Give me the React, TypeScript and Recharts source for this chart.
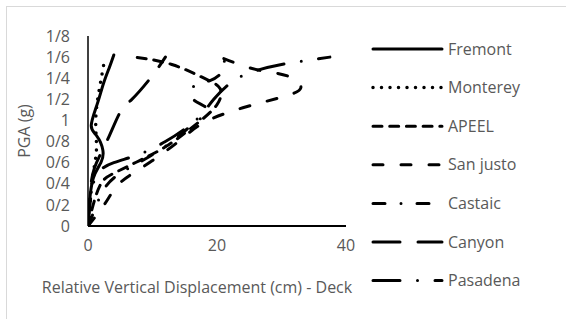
import React from 'react';
import { LineChart, Line, XAxis, YAxis } from 'recharts';

const xTicks = [0, 20, 40];
const yTicks = [0, 0.2, 0.4, 0.6, 0.8, 1, 1.2, 1.4, 1.6, 1.8];

// [displacement (cm), PGA (g)]
const fremont = [[0, 0], [0.2, 0.2], [0.8, 0.45], [2.0, 0.6], [2.3, 0.72], [1.4, 0.85], [0.5, 0.95], [1.4, 1.15], [2.4, 1.35], [3.3, 1.5], [4.0, 1.62]];
const monterey = [[0, 0], [0.3, 0.2], [0.7, 0.45], [1.2, 0.65], [1.3, 0.8], [1.2, 1.0], [1.5, 1.2], [2.0, 1.38], [2.5, 1.55]];
const apeel = [[0, 0], [0.8, 0.2], [2, 0.4], [4, 0.5], [8, 0.62], [12, 0.75], [15, 0.88], [17.5, 1.0], [20, 1.15], [20.5, 1.3], [18, 1.4], [13, 1.53], [7.3, 1.6]];
const sanJusto = [[0, 0], [2.5, 0.2], [4.5, 0.38], [7, 0.5], [10, 0.62], [14, 0.8], [18, 0.98], [24, 1.12], [30, 1.22], [33, 1.31], [31, 1.42], [27, 1.47], [23.5, 1.53], [20.5, 1.6]];
const castaic = [[0, 0], [1, 0.15], [2.5, 0.35], [5, 0.5], [9, 0.64], [13, 0.8], [16, 0.95], [18.5, 1.1], [16.3, 1.2], [16.5, 1.33], [19, 1.38], [21, 1.48], [21, 1.6]];
const canyon = [[0, 0], [0.3, 0.3], [1, 0.55], [2.9, 0.8], [5, 1.08], [6.8, 1.2], [9.8, 1.41], [12, 1.6]];
const pasadena = [[0, 0], [0.5, 0.3], [1.5, 0.5], [4, 0.6], [8, 0.68], [12, 0.8], [15, 0.92], [17.5, 1.05], [19.5, 1.2], [22, 1.35], [25, 1.45], [30, 1.53], [37.5, 1.6]];

const seriesNames = ['Fremont', 'Monterey', 'APEEL', 'San justo', 'Castaic', 'Canyon', 'Pasadena'];
const seriesData = [fremont, monterey, apeel, sanJusto, castaic, canyon, pasadena];

const dashes: (string | undefined)[] = [
  undefined,
  '0 8.5',
  '9 7.7',
  '10 18',
  '12 16 0 16',
  '27 18',
  '27 17.5 0 17.5',
];

const FONT = '"Open Sans", sans-serif';
const GRAY = '#595959';
const FS = 16;

const fmtY = (v: number) => String(v).replace('.', '/');

export default function App() {
  const rows = seriesData.map((s) => s.map(([x, y]) => ({ x, y })));
  return (
    <div style={{ position: 'fixed', left: 0, top: 0, width: 566, height: 319, background: '#fff', overflow: 'hidden' }}>
      <div style={{ position: 'absolute', left: 6, top: 6, width: 600, height: 400, border: '1px solid #d9d9d9' }} />
      <div style={{ position: 'absolute', left: 0, top: 0 }}>
        <LineChart width={566} height={319} margin={{ top: 36, right: 220, bottom: 63, left: 38 }}>
          <XAxis
            type="number"
            dataKey="x"
            domain={[0, 40]}
            ticks={xTicks}
            height={30}
            tickLine={false}
            tickSize={6}
            tickMargin={8}
            axisLine={{ stroke: '#000', strokeWidth: 2 }}
            tick={{ fill: GRAY, fontSize: FS, fontFamily: FONT }}
            allowDataOverflow
          />
          <YAxis
            type="number"
            dataKey="y"
            domain={[0, 1.8]}
            ticks={yTicks}
            width={50}
            tickLine={false}
            tickSize={6}
            tickMargin={12}
            tickFormatter={fmtY}
            axisLine={{ stroke: '#000', strokeWidth: 1.5 }}
            tick={{ fill: GRAY, fontSize: FS, fontFamily: FONT }}
            interval={0}
            allowDataOverflow
          />
          {rows.map((d, i) => (
            <Line
              key={seriesNames[i]}
              data={d}
              dataKey="y"
              name={seriesNames[i]}
              type="natural"
              stroke="#000"
              strokeWidth={i === 1 ? 3.5 : 3}
              strokeDasharray={dashes[i]}
              strokeLinecap="round"
              dot={false}
              activeDot={false}
              isAnimationActive={false}
            />
          ))}
        </LineChart>
      </div>
      <div style={{ position: 'absolute', left: 10, top: 131, width: 28, height: 0 }}>
        <div style={{ position: 'absolute', left: 14, top: 0, transform: 'translate(-50%, -50%) rotate(-90deg)', whiteSpace: 'nowrap', fontFamily: FONT, fontSize: FS, color: GRAY }}>
          PGA (g)
        </div>
      </div>
      <div style={{ position: 'absolute', left: 197, top: 287, transform: 'translate(-50%, -50%)', whiteSpace: 'nowrap', fontFamily: FONT, fontSize: FS, color: GRAY }}>
        Relative Vertical Displacement (cm) - Deck
      </div>
      <svg style={{ position: 'absolute', left: 0, top: 0 }} width={566} height={319}>
        {seriesNames.map((n, i) => {
          const y = 49 + i * 38.6;
          return (
            <g key={n}>
              <line x1={373} x2={442} y1={y} y2={y} stroke="#000" strokeWidth={i === 1 ? 3.5 : 3} strokeDasharray={dashes[i]} strokeLinecap="round" />
              <text x={448} y={y} dy="0.35em" fill={GRAY} fontSize={FS} fontFamily={FONT}>{n}</text>
            </g>
          );
        })}
      </svg>
    </div>
  );
}
